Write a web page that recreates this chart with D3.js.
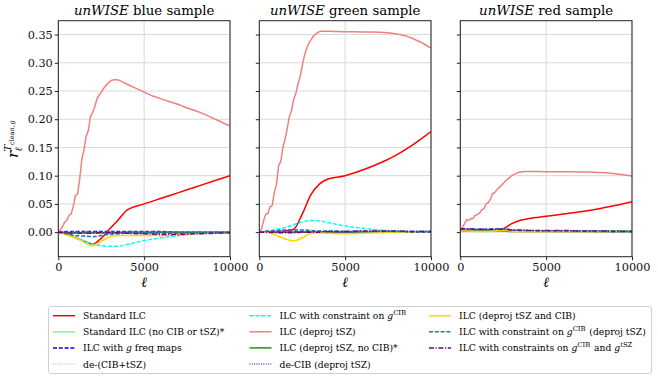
<!DOCTYPE html>
<html>
<head>
<meta charset="utf-8">
<script src="https://cdn.jsdelivr.net/npm/d3@7"></script>
<style>
body { margin: 0; background: #fff; }
svg, svg text { font-family: "DejaVu Serif", "Liberation Serif", serif; }
</style>
</head>
<body>
<script>
/**
 * DATA
 */

var samples = ['blue', 'green', 'red'];
var xTicks = [0, 5000, 10000];
var yTicks = [0, 0.05, 0.10, 0.15, 0.20, 0.25, 0.30, 0.35];

// multipoles
var ellCoarse = [0, 500, 1000, 1500, 2000, 2500, 3000, 3500, 4000, 5000, 6000, 7000, 8000, 9000, 10000];
var ellFine = [0, 125, 250, 375, 500, 625, 750, 875, 1000, 1125, 1250, 1375, 1500, 1625, 1750, 1875,
	2000, 2125, 2250, 2375, 2500, 2625, 2750, 2875, 3000, 3125, 3250, 3375, 3500, 3625, 3750, 3875,
	4000, 4500, 5000, 5500, 6000, 6500, 7000, 7500, 8000, 8500, 9000, 9500, 10000];

// unWISE blue sample
var blueStandard = [0, -0.004, -0.010, -0.016, -0.021, -0.011, 0.006, 0.022, 0.039, 0.050, 0.060, 0.070, 0.080, 0.090, 0.100];
var blueNoFg = [0, -0.001, -0.001, -0.001, -0.001, -0.001, -0.001, -0.001, -0.001, -0.001, -0.001, -0.001, -0.001, -0.001, 0];
var blueGFreq = [0, 0.001, 0.001, 0.001, 0.001, 0.001, 0.001, 0.001, 0.001, 0.001, 0.001, 0, 0, 0, 0];
var blueDeCibTsz = [0, 0, 0, 0, 0, 0, 0, 0, 0, 0, 0, 0, 0, 0, 0];
var blueConstrCib = [0, -0.003, -0.008, -0.016, -0.021, -0.024, -0.025, -0.025, -0.022, -0.015, -0.010, -0.006, -0.003, -0.002, -0.001];
var blueDeprojTsz = [0, 0.004, 0.010, 0.018, 0.021, 0.030, 0.032, 0.046, 0.065, 0.068, 0.095, 0.130, 0.146, 0.170, 0.180, 0.205,
	0.212, 0.222, 0.236, 0.242, 0.248, 0.254, 0.259, 0.263, 0.267, 0.269, 0.270, 0.270, 0.2695, 0.268, 0.266, 0.264,
	0.262, 0.255, 0.248, 0.241, 0.236, 0.231, 0.226, 0.220, 0.215, 0.209, 0.202, 0.195, 0.188];
var blueDeprojNoCib = [0, -0.001, -0.001, -0.001, -0.001, -0.001, -0.001, -0.001, 0, 0, 0, 0, 0, 0, 0];
var blueDeCib = [0, 0, 0, 0, 0, 0, 0, 0, 0, 0, 0, 0, 0, 0, 0];
var blueDeprojBoth = [0, -0.005, -0.010, -0.018, -0.024, -0.016, -0.008, -0.006, -0.006, -0.006, -0.006, -0.004, -0.003, -0.002, -0.001];
var blueConstrCibDeproj = [0, -0.003, -0.006, -0.007, -0.008, -0.006, -0.004, -0.003, -0.002, -0.002, -0.002, -0.002, -0.001, -0.001, -0.001];
var blueConstrBoth = [0, -0.001, -0.002, -0.002, -0.002, -0.001, -0.001, -0.001, -0.002, -0.003, -0.004, -0.004, -0.003, -0.002, -0.001];

// unWISE green sample
var greenStandard = [0, 0, 0.001, 0.002, 0.005, 0.032, 0.066, 0.085, 0.094, 0.100, 0.110, 0.122, 0.137, 0.156, 0.178];
var greenNoFg = [0, 0, 0, 0, 0, 0, 0, 0, 0, 0, 0, 0, 0, 0, 0];
var greenGFreq = [0, 0.001, 0.001, 0.001, 0.001, 0.001, 0.001, 0.001, 0.001, 0.001, 0.001, 0.001, 0.001, 0.001, 0.001];
var greenDeCibTsz = [0, 0, 0, 0, 0, 0, 0, 0, 0, 0, 0, 0, 0, 0, 0];
var greenConstrCib = [0, 0.002, 0.005, 0.008, 0.013, 0.018, 0.0205, 0.020, 0.017, 0.011, 0.007, 0.004, 0.002, 0.001, 0.001];
var greenDeprojTsz = [0, 0.005, 0.020, 0.032, 0.033, 0.045, 0.047, 0.070, 0.085, 0.118, 0.125, 0.150, 0.165, 0.183, 0.205, 0.215,
	0.235, 0.245, 0.262, 0.275, 0.295, 0.312, 0.325, 0.334, 0.340, 0.346, 0.350, 0.353, 0.355, 0.3558, 0.356, 0.356,
	0.3558, 0.3553, 0.355, 0.3548, 0.3545, 0.3543, 0.354, 0.353, 0.351, 0.348, 0.342, 0.335, 0.326];
var greenDeprojNoCib = [0, 0, 0, 0, 0, 0, 0, 0, 0, 0, 0, 0, 0, 0, 0];
var greenDeCib = [0, 0, 0, 0, 0, 0, 0, 0, 0, 0, 0, 0, 0, 0, 0];
var greenDeprojBoth = [0, -0.001, -0.006, -0.012, -0.0155, -0.010, -0.002, -0.001, -0.002, -0.003, -0.002, -0.001, 0, 0, 0];
var greenConstrCibDeproj = [0, 0.002, 0.003, 0.004, 0.004, 0.004, 0.003, 0.002, 0.002, 0.001, 0.001, 0.001, 0.001, 0, 0];
var greenConstrBoth = [0, 0, -0.001, -0.001, -0.001, 0, 0, 0, 0.001, 0.001, 0.002, 0.002, 0.002, 0.001, 0.001];

// unWISE red sample
var redStandard = [0.004, 0.004, 0.004, 0.004, 0.004, 0.006, 0.015, 0.021, 0.024, 0.028, 0.032, 0.036, 0.041, 0.047, 0.054];
var redNoFg = [0.003, 0.003, 0.003, 0.003, 0.003, 0.003, 0.002, 0.002, 0.001, 0.001, 0.001, 0.001, 0.001, 0.001, 0.001];
var redGFreq = [0.004, 0.004, 0.004, 0.004, 0.004, 0.004, 0.003, 0.002, 0.002, 0.002, 0.002, 0.002, 0.001, 0.001, 0.001];
var redDeCibTsz = [0.003, 0.003, 0.003, 0.003, 0.003, 0.003, 0.002, 0.002, 0.002, 0.001, 0.001, 0.001, 0.001, 0.001, 0.001];
var redConstrCib = [0.004, 0.005, 0.005, 0.005, 0.005, 0.006, 0.003, 0.002, 0.002, 0.002, 0.002, 0.002, 0.002, 0.002, 0.002];
var redDeprojTsz = [0.003, 0.008, 0.015, 0.022, 0.021, 0.024, 0.024, 0.030, 0.031, 0.034, 0.040, 0.041, 0.050, 0.052, 0.058, 0.068,
	0.070, 0.075, 0.079, 0.082, 0.086, 0.090, 0.094, 0.097, 0.100, 0.102, 0.104, 0.1055, 0.1065, 0.107, 0.1072, 0.1073,
	0.1073, 0.1072, 0.1071, 0.107, 0.107, 0.1068, 0.1066, 0.1063, 0.1058, 0.105, 0.1035, 0.1017, 0.0995];
var redDeprojNoCib = [0.002, 0.002, 0.002, 0.002, 0.002, 0.002, 0.001, 0.001, 0.001, 0.001, 0.001, 0.001, 0.001, 0.001, 0.001];
var redDeCib = [0.003, 0.003, 0.003, 0.003, 0.003, 0.003, 0.002, 0.002, 0.002, 0.002, 0.001, 0.001, 0.001, 0.001, 0.001];
var redDeprojBoth = [0.002, 0.002, 0.001, 0.001, 0.002, 0.003, 0.002, 0.001, 0.001, 0.001, 0.001, 0.001, 0.001, 0.001, 0.001];
var redConstrCibDeproj = [0.005, 0.005, 0.005, 0.005, 0.006, 0.006, 0.004, 0.003, 0.003, 0.002, 0.002, 0.002, 0.002, 0.002, 0.001];
var redConstrBoth = [0.006, 0.006, 0.005, 0.005, 0.005, 0.005, 0.004, 0.004, 0.003, 0.003, 0.003, 0.002, 0.002, 0.001, 0.001];

// legend labels ({g} = italic g, ^XYZ = superscript)
var legendLabels = [
	'Standard ILC', 'Standard ILC (no CIB or tSZ)*', 'ILC with {g} freq maps', 'de-(CIB+tSZ)',
	'ILC with constraint on {g}^CIB', 'ILC (deproj tSZ)', 'ILC (deproj tSZ, no CIB)*', 'de-CIB (deproj tSZ)',
	'ILC (deproj tSZ and CIB)', 'ILC with constraint on {g}^CIB (deproj tSZ)', 'ILC with constraints on {g}^CIB and {g}^tSZ'
];

/**
 * STYLES
 */
var serif = '"DejaVu Serif", "Liberation Serif", serif';
var seriesStyle = [
	{color: '#ff0000', dash: null},
	{color: '#90ee90', dash: null},
	{color: '#0000ff', dash: '4,1.8'},
	{color: '#add8e6', dash: '1,1.3'},
	{color: '#00ffff', dash: '4,1.8'},
	{color: '#f08080', dash: null},
	{color: '#228b22', dash: null},
	{color: '#6a5acd', dash: '1,1.3'},
	{color: '#ffd700', dash: null},
	{color: '#1f77b4', dash: '4,1.8'},
	{color: '#800080', dash: '5,1.6,1.2,1.6'}
];

var panelSeries = {
	blue: [blueStandard, blueNoFg, blueGFreq, blueDeCibTsz, blueConstrCib, blueDeprojTsz, blueDeprojNoCib, blueDeCib, blueDeprojBoth, blueConstrCibDeproj, blueConstrBoth],
	green: [greenStandard, greenNoFg, greenGFreq, greenDeCibTsz, greenConstrCib, greenDeprojTsz, greenDeprojNoCib, greenDeCib, greenDeprojBoth, greenConstrCibDeproj, greenConstrBoth],
	red: [redStandard, redNoFg, redGFreq, redDeCibTsz, redConstrCib, redDeprojTsz, redDeprojNoCib, redDeCib, redDeprojBoth, redConstrCibDeproj, redConstrBoth]
};

/**
 * LAYOUT
 */
var width = 658, height = 380;
var panelLeft = [58.3, 259.3, 460.3];
var panelW = 171.7;
var plotTop = 20.7, plotBottom = 256.7;

var svg = d3.select('body').append('svg')
	.attr('width', width)
	.attr('height', height)
	.attr('font-family', serif);

var y = d3.scaleLinear().domain([-0.0435, 0.3745]).range([plotBottom, plotTop]);
var x = d3.scaleLinear().domain([0, 10000]).range([0, panelW]);

// italic g / superscript rendering
function richText(sel, label) {
	var re = /\{g\}(\^(\w+))?/g, last = 0, m;
	while ((m = re.exec(label)) !== null) {
		if (m.index > last) { sel.append('tspan').text(label.slice(last, m.index)); }
		sel.append('tspan').attr('font-style', 'italic').text('g');
		if (m[2]) {
			sel.append('tspan').attr('dy', -4).attr('font-size', 6.8).text(m[2]);
			sel.append('tspan').attr('dy', 4).text('\u200a');
		}
		last = re.lastIndex;
	}
	if (last < label.length) { sel.append('tspan').text(label.slice(last)); }
}

samples.forEach(function(name, p) {
	var g = svg.append('g').attr('transform', 'translate(' + panelLeft[p] + ',0)');

	g.append('clipPath').attr('id', 'clip' + p)
		.append('rect').attr('x', 0).attr('y', plotTop).attr('width', panelW).attr('height', plotBottom - plotTop);

	// grid
	g.selectAll('.gy').data(yTicks).enter().append('line')
		.attr('x1', 0).attr('x2', panelW)
		.attr('y1', function(d) { return y(d); }).attr('y2', function(d) { return y(d); })
		.attr('stroke', '#d8d8d8').attr('stroke-width', 1);
	g.selectAll('.gx').data(xTicks).enter().append('line')
		.attr('x1', function(d) { return x(d); }).attr('x2', function(d) { return x(d); })
		.attr('y1', plotTop).attr('y2', plotBottom)
		.attr('stroke', '#d8d8d8').attr('stroke-width', 1);

	// curves
	var lines = g.append('g').attr('clip-path', 'url(#clip' + p + ')');
	panelSeries[name].forEach(function(vals, i) {
		var ells = vals.length === ellFine.length ? ellFine : ellCoarse;
		var pts = vals.map(function(v, k) { return [ells[k], v]; });
		var line = d3.line()
			.x(function(d) { return x(d[0]); })
			.y(function(d) { return y(d[1]); })
			.curve(ells === ellFine ? d3.curveLinear : d3.curveMonotoneX);
		lines.append('path')
			.attr('d', line(pts))
			.attr('fill', 'none')
			.attr('stroke', seriesStyle[i].color)
			.attr('stroke-width', 1.5)
			.attr('stroke-dasharray', seriesStyle[i].dash);
	});

	// frame
	g.append('rect').attr('x', 0).attr('y', plotTop).attr('width', panelW).attr('height', plotBottom - plotTop)
		.attr('fill', 'none').attr('stroke', '#222').attr('stroke-width', 1);

	// x axis
	var xa = g.append('g').attr('transform', 'translate(0,' + plotBottom + ')')
		.call(d3.axisBottom(x).tickValues(xTicks).tickSize(3.5).tickPadding(2.5).tickFormat(d3.format('d')))
		.attr('font-family', serif).attr('font-size', 11.3);
	xa.select('.domain').remove();
	xa.selectAll('line').attr('stroke', '#222');
	xa.selectAll('text').attr('fill', '#111');

	g.append('text').attr('x', panelW / 2).attr('y', 287)
		.attr('text-anchor', 'middle').attr('font-size', 14).attr('font-style', 'italic').text('\u2113');

	// y axis ticks
	var ya = g.append('g').call(d3.axisLeft(y).tickValues(yTicks).tickSize(3.5).tickPadding(2)
		.tickFormat(p === 0 ? d3.format('.2f') : function() { return ''; }))
		.attr('font-family', serif).attr('font-size', 11.3);
	ya.select('.domain').remove();
	ya.selectAll('line').attr('stroke', '#222');
	ya.selectAll('text').attr('fill', '#111');

	// title
	var t = g.append('text').attr('x', panelW / 2).attr('y', 15)
		.attr('text-anchor', 'middle').attr('font-size', 13.3);
	t.append('tspan').attr('font-style', 'italic').text('unWISE');
	t.append('tspan').text(' ' + name + ' sample');
});

// y label r_l^{T_clean,g}
var yl = svg.append('g').attr('transform', 'translate(18,158) rotate(-90)');
yl.append('text').attr('x', 0).attr('y', 0).attr('font-size', 15).attr('font-style', 'italic').text('r');
yl.append('text').attr('x', 6.5).attr('y', 3.5).attr('font-size', 10).attr('font-style', 'italic').text('\u2113');
yl.append('text').attr('x', 6.5).attr('y', -7).attr('font-size', 10).attr('font-style', 'italic').text('T');
yl.append('text').attr('x', 13).attr('y', -4.5).attr('font-size', 6.5).text('clean');
yl.append('text').attr('x', 31).attr('y', -4.5).attr('font-size', 6.5).text(',');
yl.append('text').attr('x', 33.5).attr('y', -4.5).attr('font-size', 6.5).attr('font-style', 'italic').text('g');

/**
 * LEGEND
 */
var legend = svg.append('g');
legend.append('rect')
	.attr('x', 48.5).attr('y', 306.5).attr('width', 603).attr('height', 67)
	.attr('rx', 2.5).attr('fill', '#fff').attr('stroke', '#d0d0d0').attr('stroke-width', 1);

var colX = [53, 249.5, 429];
legendLabels.forEach(function(label, i) {
	var col = Math.floor(i / 4), row = i % 4;
	var ly = 315.7 + row * 16.1;
	legend.append('line')
		.attr('x1', colX[col]).attr('x2', colX[col] + 22)
		.attr('y1', ly).attr('y2', ly)
		.attr('stroke', seriesStyle[i].color).attr('stroke-width', 1.5)
		.attr('stroke-dasharray', seriesStyle[i].dash);
	var txt = legend.append('text')
		.attr('x', colX[col] + 30).attr('y', ly + 3.5).attr('font-size', 9.2);
	richText(txt, label);
});
</script>
</body>
</html>
